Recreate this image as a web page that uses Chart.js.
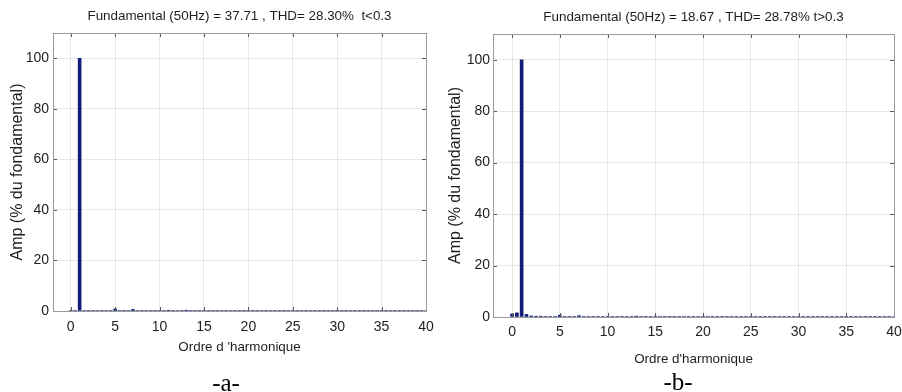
<!DOCTYPE html>
<html>
<head>
<meta charset="utf-8">
<script src="https://cdn.jsdelivr.net/npm/chart.js@4.4.1/dist/chart.umd.min.js"></script>
<style>
  html, body { margin: 0; padding: 0; background: #fff; overflow: hidden; }
  body { width: 902px; height: 392px; position: relative; }
  canvas { position: absolute; top: 0; }
  #chartA { left: 0; }
  #chartB { left: 445px; }
  .caption {
    position: absolute; width: 100px; text-align: center;
    font: 25px/25px "Liberation Serif", "Times New Roman", serif; color: #000;
  }
</style>
</head>
<body>
<canvas id="chartA" width="445" height="392"></canvas>
<canvas id="chartB" width="457" height="392"></canvas>
<div class="caption" style="left:176px; top:370px;">-a-</div>
<div class="caption" style="left:628px; top:369px;">-b-</div>

<script>
// Ordres d'harmonique (pas de 0.5)
const orders = [
  0, 0.5, 1, 1.5, 2, 2.5, 3, 3.5, 4, 4.5, 5, 5.5, 6, 6.5, 7, 7.5, 8, 8.5, 9, 9.5,
  10, 10.5, 11, 11.5, 12, 12.5, 13, 13.5, 14, 14.5, 15, 15.5, 16, 16.5, 17, 17.5, 18, 18.5, 19, 19.5,
  20, 20.5, 21, 21.5, 22, 22.5, 23, 23.5, 24, 24.5, 25, 25.5, 26, 26.5, 27, 27.5, 28, 28.5, 29, 29.5,
  30, 30.5, 31, 31.5, 32, 32.5, 33, 33.5, 34, 34.5, 35, 35.5, 36, 36.5, 37, 37.5, 38, 38.5, 39, 39.5,
  40
];

// Amplitudes (% du fondamental) - t<0.3
const ampA = [
  0.2, 0.2, 100, 0.2, 0.2, 0.2, 0.2, 0.2, 0.2, 0.2, 0.8, 0.2, 0.2, 0.2, 0.6, 0.2, 0.2, 0.2, 0.2, 0.2,
  0.2, 0.2, 0.3, 0.2, 0.2, 0.2, 0.3, 0.2, 0.2, 0.2, 0.2, 0.2, 0.2, 0.2, 0.2, 0.2, 0.2, 0.2, 0.2, 0.2,
  0.2, 0.2, 0.2, 0.2, 0.2, 0.2, 0.2, 0.2, 0.2, 0.2, 0.2, 0.2, 0.2, 0.2, 0.2, 0.2, 0.2, 0.2, 0.2, 0.2,
  0.2, 0.2, 0.2, 0.2, 0.2, 0.2, 0.2, 0.2, 0.2, 0.2, 0.2, 0.2, 0.2, 0.2, 0.2, 0.2, 0.2, 0.2, 0.2, 0.2,
  0.2
];

// Amplitudes (% du fondamental) - t>0.3
const ampB = [
  1.2, 1.6, 100, 1.0, 0.4, 0.3, 0.3, 0.2, 0.2, 0.2, 0.7, 0.2, 0.2, 0.2, 0.5, 0.2, 0.2, 0.2, 0.2, 0.2,
  0.2, 0.2, 0.2, 0.2, 0.2, 0.2, 0.3, 0.2, 0.2, 0.2, 0.2, 0.2, 0.2, 0.2, 0.2, 0.2, 0.2, 0.2, 0.2, 0.2,
  0.2, 0.2, 0.2, 0.2, 0.2, 0.2, 0.2, 0.2, 0.2, 0.2, 0.2, 0.2, 0.2, 0.2, 0.2, 0.2, 0.2, 0.2, 0.2, 0.2,
  0.2, 0.2, 0.2, 0.2, 0.2, 0.2, 0.2, 0.2, 0.2, 0.2, 0.2, 0.2, 0.2, 0.2, 0.2, 0.2, 0.2, 0.2, 0.2, 0.2,
  0.2
];

// Graduations des axes
const xTicks = [0, 5, 10, 15, 20, 25, 30, 35, 40];
const yTicks = [0, 20, 40, 60, 80, 100];

const titleA = 'Fundamental (50Hz) = 37.71 , THD= 28.30%  t<0.3';
const titleB = 'Fundamental (50Hz) = 18.67 , THD= 28.78% t>0.3';
const xLabelA = "Ordre d 'harmonique";
const xLabelB = "Ordre d'harmonique";
const yLabel = 'Amp (% du fondamental)';

const SANS = '"Liberation Sans", Arial, sans-serif';
const TEXT_COLOR = '#1e1e1e';

// Titre centré sur la zone de tracé, cadre + petites graduations internes (style MATLAB)
const boxPlugin = {
    id: 'box',
    afterDraw(chart, args, opts) {
        const { ctx, chartArea: a, scales } = chart;
        ctx.save();
        ctx.strokeStyle = '#5a5a5a';
        ctx.lineWidth = 1;
        ctx.beginPath();
        scales.x.ticks.forEach(t => {
            const px = Math.round(scales.x.getPixelForValue(t.value)) + 0.5;
            ctx.moveTo(px, a.bottom); ctx.lineTo(px, a.bottom - 4);
            ctx.moveTo(px, a.top); ctx.lineTo(px, a.top + 4);
        });
        scales.y.ticks.forEach(t => {
            const py = Math.round(scales.y.getPixelForValue(t.value)) + 0.5;
            ctx.moveTo(a.left, py); ctx.lineTo(a.left + 4, py);
            ctx.moveTo(a.right, py); ctx.lineTo(a.right - 4, py);
        });
        ctx.stroke();
        ctx.strokeStyle = '#9a9a9a';
        ctx.strokeRect(Math.round(a.left) + 0.5, Math.round(a.top) + 0.5,
            Math.round(a.right - a.left), Math.round(a.bottom - a.top));

        // titre
        ctx.fillStyle = TEXT_COLOR;
        ctx.font = '13.4px ' + SANS;
        ctx.textAlign = 'center';
        ctx.textBaseline = 'middle';
        ctx.fillText(opts.text, (a.left + a.right) / 2, opts.y);
        ctx.restore();
    }
};

function makeChart(id, amps, cfg) {
    const ctx = document.getElementById(id).getContext('2d');
    return new Chart(ctx, {
        type: 'bar',
        data: {
            datasets: [{
                data: orders.map((o, i) => ({ x: o, y: amps[i] })),
                backgroundColor: '#121d78',
                borderWidth: 0,
                barThickness: 3
            }]
        },
        options: {
            responsive: false,
            animation: false,
            events: [],
            layout: { padding: { left: 0, right: cfg.padRight, top: cfg.padTop, bottom: 20 } },
            plugins: {
                legend: { display: false },
                tooltip: { enabled: false },
                title: { display: false },
                box: { text: cfg.title, y: cfg.titleY }
            },
            scales: {
                x: {
                    type: 'linear',
                    min: -2,
                    max: 40,
                    offset: false,
                    afterBuildTicks: s => { s.ticks = xTicks.map(v => ({ value: v })); },
                    afterFit: s => {
                        s.height = cfg.xHeight;
                        s.paddingLeft = 0;
                        s.paddingRight = 0;
                    },
                    grid: { offset: false, drawTicks: false, color: 'rgba(0,0,0,0.09)' },
                    border: { display: false },
                    ticks: {
                        padding: cfg.xTickPad,
                        color: TEXT_COLOR,
                        maxRotation: 0,
                        font: { family: SANS, size: 14 }
                    },
                    title: {
                        display: true,
                        text: cfg.xLabel,
                        color: TEXT_COLOR,
                        font: { family: SANS, size: 13.4 },
                        padding: { top: 0, bottom: cfg.xTitlePad }
                    }
                },
                y: {
                    min: 0,
                    max: 110,
                    afterBuildTicks: s => { s.ticks = yTicks.map(v => ({ value: v })); },
                    afterFit: s => { s.width = cfg.yWidth; },
                    grid: { drawTicks: false, color: 'rgba(0,0,0,0.09)' },
                    border: { display: false },
                    ticks: {
                        padding: cfg.yTickPad,
                        color: TEXT_COLOR,
                        font: { family: SANS, size: 14 }
                    },
                    title: {
                        display: true,
                        text: yLabel,
                        color: TEXT_COLOR,
                        font: { family: SANS, size: 16 },
                        padding: { top: cfg.yTitlePad, bottom: 0 }
                    }
                }
            }
        },
        plugins: [boxPlugin]
    });
}

document.addEventListener('DOMContentLoaded', function() {
    makeChart('chartA', ampA, {
        title: titleA, titleY: 16, xLabel: xLabelA,
        padRight: 19, padTop: 33,
        xHeight: 61, xTickPad: 7.6, xTitlePad: 16.6,
        yWidth: 53, yTickPad: 4, yTitlePad: 8
    });
    makeChart('chartB', ampB, {
        title: titleB, titleY: 17, xLabel: xLabelB,
        padRight: 8, padTop: 34,
        xHeight: 55, xTickPad: 6.6, xTitlePad: 4.6,
        yWidth: 48, yTickPad: 3, yTitlePad: 1
    });
});
</script>
</body>
</html>
